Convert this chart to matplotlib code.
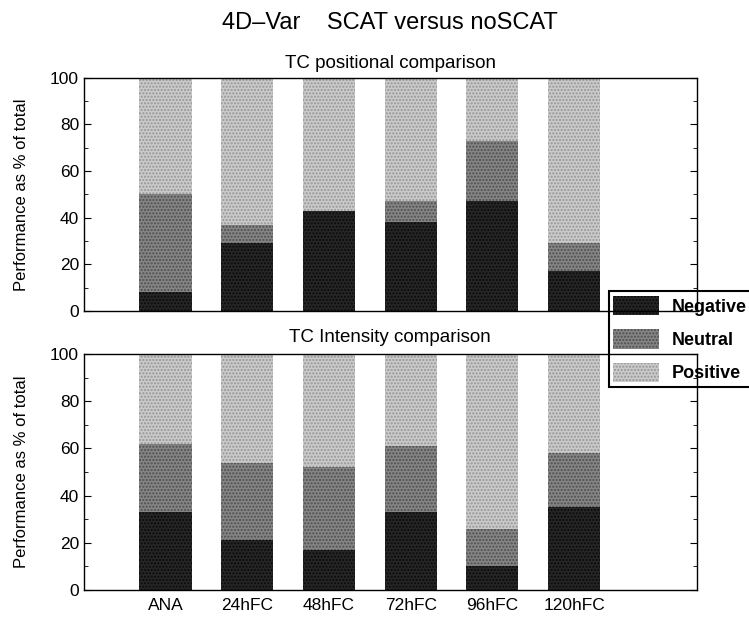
import numpy as np
import matplotlib.pyplot as plt
from matplotlib.patches import Patch
from matplotlib.ticker import MultipleLocator

plt.rcParams['font.family'] = ['Liberation Sans', 'DejaVu Sans']

# Data (percent of total)
categories = ['ANA', '24hFC', '48hFC', '72hFC', '96hFC', '120hFC']
pos_negative = [8, 29, 43, 38, 47, 17]
pos_neutral = [42, 8, 0, 9, 26, 12]
pos_positive = [50, 63, 57, 53, 27, 71]
int_negative = [33, 21, 17, 33, 10, 35]
int_neutral = [29, 33, 35, 28, 16, 23]
int_positive = [38, 46, 48, 39, 74, 42]

colors = {'Negative': '#262626', 'Neutral': '#858585', 'Positive': '#cacaca'}
hatch_cols = {'Negative': '#0a0a0a', 'Neutral': '#4e4e4e', 'Positive': '#959595'}

fig = plt.figure(figsize=(7.49, 6.17), dpi=100)
ax1 = fig.add_axes([0.112, 0.496, 0.818, 0.378])
ax2 = fig.add_axes([0.112, 0.044, 0.818, 0.382])

x = np.arange(1, len(categories) + 1)


def draw(ax, neg, neu, posv):
    bottom = np.zeros(len(x))
    for name, vals in [('Negative', neg), ('Neutral', neu), ('Positive', posv)]:
        ax.bar(x, vals, width=0.64, bottom=bottom, color=colors[name],
               edgecolor=hatch_cols[name], linewidth=0, hatch='.....')
        bottom += np.array(vals)
    ax.set_xlim(0, 7.5)
    ax.set_ylim(0, 100)
    ax.yaxis.set_major_locator(MultipleLocator(20))
    ax.yaxis.set_minor_locator(MultipleLocator(10))
    ax.tick_params(axis='y', which='both', direction='in', right=True, labelsize=12.5)
    ax.tick_params(axis='y', which='major', length=5)
    ax.tick_params(axis='y', which='minor', length=3)
    ax.set_ylabel('Performance as % of total', fontsize=12)
    ax.yaxis.set_label_coords(-0.09, 0.5)
    ax.patch.set_visible(False)
    for s in ax.spines.values():
        s.set_linewidth(1.0)


draw(ax1, pos_negative, pos_neutral, pos_positive)
draw(ax2, int_negative, int_neutral, int_positive)

ax1.set_xticks([])
ax2.set_xticks(x)
ax2.set_xticklabels(categories, fontsize=12.5)
ax2.tick_params(axis='x', length=0, pad=6)

fig.text(0.521, 0.962, '4D\u2013Var    SCAT versus noSCAT', ha='center', va='center', fontsize=17)
ax1.set_title('TC positional comparison', fontsize=13.5, pad=7)
ax2.set_title('TC Intensity comparison', fontsize=13.5, pad=9)

handles = [Patch(facecolor=colors[n], edgecolor=hatch_cols[n], linewidth=0, hatch='.....', label=n)
           for n in ['Negative', 'Neutral', 'Positive']]
leg = fig.legend(handles=handles, loc='upper left', bbox_to_anchor=(0.813, 0.528),
                 fancybox=False, edgecolor='black', framealpha=1,
                 prop={'weight': 'bold', 'size': 13}, handlelength=2.5, handleheight=1.3,
                 borderpad=0.25, labelspacing=0.75, handletextpad=0.75, borderaxespad=0)
leg.get_frame().set_linewidth(1.5)
leg.set_zorder(-1)

fig.savefig('out.png', dpi=100)
